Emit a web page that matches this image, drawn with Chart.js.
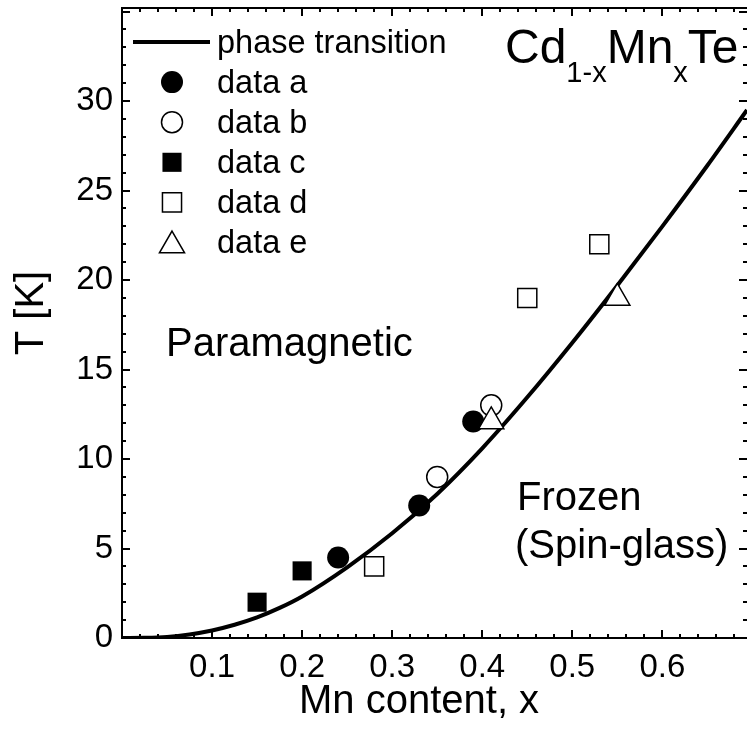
<!DOCTYPE html>
<html>
<head>
<meta charset="utf-8">
<title>Cd1-xMnxTe phase diagram</title>
<script src="https://cdn.jsdelivr.net/npm/chart.js@4.4.0/dist/chart.umd.min.js"></script>
<style>
    html, body { margin: 0; padding: 0; background: #fff; }
    #wrap { width: 747px; height: 747px; }
</style>
</head>
<body>
<div id="wrap"><canvas id="chart" width="747" height="747"></canvas></div>
<script>
// Phase transition line T(x)
const curveX = [0, 0.025, 0.05, 0.075, 0.1, 0.125, 0.15, 0.175, 0.2, 0.25, 0.3, 0.35, 0.4, 0.45, 0.5, 0.55, 0.6, 0.65, 0.694];
const curveT = [0, 0.01, 0.06, 0.2, 0.42, 0.74, 1.15, 1.68, 2.32, 3.95, 5.85, 8.05, 10.6, 13.45, 16.5, 19.7, 23.0, 26.4, 29.5];

// Measured freezing temperatures
const dataAX = [0.24, 0.33, 0.39];
const dataAT = [4.5, 7.4, 12.1];
const dataBX = [0.35, 0.41];
const dataBT = [9.0, 13.0];
const dataCX = [0.15, 0.20];
const dataCT = [2.0, 3.75];
const dataDX = [0.28, 0.45, 0.53];
const dataDT = [4.0, 19.0, 22.0];
const dataEX = [0.41, 0.55];
const dataET = [12.1, 19.0];

// Axis ticks
const xTickValues = [0.1, 0.2, 0.3, 0.4, 0.5, 0.6];
const yTickValues = [0, 5, 10, 15, 20, 25, 30];

const FONT = '"Liberation Sans", Arial, sans-serif';

function toPoints(xs, ys) {
    return xs.map((x, i) => ({ x: x, y: ys[i] }));
}

// Marker styles shared by the plot and the legend
const markerStyles = {
    a: { pointStyle: 'circle', radius: 11, fill: '#000', borderWidth: 0 },
    b: { pointStyle: 'circle', radius: 10.5, fill: '#fff', borderWidth: 1.5 },
    c: { pointStyle: 'rect', radius: 13.5, fill: '#000', borderWidth: 0 },
    d: { pointStyle: 'rect', radius: 13.5, fill: '#fff', borderWidth: 1.5 },
    e: { pointStyle: 'triangle', radius: 14.5, fill: '#fff', borderWidth: 1.5 }
};

function markerDataset(label, xs, ys, key, order) {
    const s = markerStyles[key];
    return {
        label: label,
        data: toPoints(xs, ys),
        showLine: false,
        pointStyle: s.pointStyle,
        pointRadius: s.radius,
        pointBackgroundColor: s.fill,
        pointBorderColor: '#000',
        pointBorderWidth: s.borderWidth,
        order: order
    };
}

// keep the plot area exactly where the layout puts it
function noScalePadding(scale) {
    scale.paddingTop = 0;
    scale.paddingBottom = 0;
    scale.paddingLeft = 0;
    scale.paddingRight = 0;
}

// Frame, inward ticks, axis titles, legend and text labels
const decorPlugin = {
    id: 'decor',
    afterDraw(chart) {
        const ctx = chart.ctx;
        const area = chart.chartArea;
        const xs = chart.scales.x;
        const ys = chart.scales.y;

        ctx.save();
        ctx.fillStyle = '#000';
        // frame (right edge sits outside the canvas)
        ctx.fillRect(area.left - 1, area.top - 1, 2, area.bottom - area.top + 2);
        ctx.fillRect(area.left - 1, area.top - 1, area.right - area.left + 2, 2);
        ctx.fillRect(area.left - 1, area.bottom - 1, area.right - area.left + 2, 2);

        // x ticks, bottom and top
        for (let i = 1; i * 0.02 <= xs.max + 1e-9; i++) {
            const v = i * 0.02;
            const px = Math.round(xs.getPixelForValue(v));
            const major = i % 5 === 0;
            const len = major ? 8 : 4;
            ctx.fillRect(px - 1, area.bottom - len, 2, len);
            ctx.fillRect(px - 1, area.top, 2, len);
        }
        // y ticks, left and right
        for (let v = 1; v <= ys.max; v++) {
            const py = Math.round(ys.getPixelForValue(v));
            const major = v % 5 === 0;
            const len = major ? 8 : 4;
            ctx.fillRect(area.left, py - 1, len, 2);
            ctx.fillRect(area.right - len, py - 1, len, 2);
        }

        ctx.textAlign = 'left';
        ctx.textBaseline = 'alphabetic';

        // axis titles
        ctx.font = '40px ' + FONT;
        ctx.fillText('Mn content, x', 299, 713);
        ctx.save();
        ctx.translate(43, 313);
        ctx.rotate(-Math.PI / 2);
        ctx.textAlign = 'center';
        ctx.fillText('T [K]', 0, 0);
        ctx.restore();

        // legend
        ctx.font = '32.5px ' + FONT;
        const lx = 172;
        const tx = 217;
        const base0 = 52.5;
        const step = 40.1;
        ctx.fillRect(133, 40, 77, 4);
        ctx.fillText('phase transition', tx, base0);
        const entries = [['a', 'data a'], ['b', 'data b'], ['c', 'data c'], ['d', 'data d'], ['e', 'data e']];
        entries.forEach((en, i) => {
            const s = markerStyles[en[0]];
            const base = base0 + step * (i + 1);
            let cy = base - 10.5;
            if (s.pointStyle === 'triangle') cy += 3;
            ctx.fillStyle = s.fill;
            ctx.strokeStyle = '#000';
            ctx.lineWidth = s.borderWidth;
            Chart.helpers.drawPoint(ctx, {
                pointStyle: s.pointStyle,
                radius: s.radius,
                rotation: 0,
                borderWidth: s.borderWidth
            }, lx, cy);
            ctx.fillStyle = '#000';
            ctx.fillText(en[1], tx, base);
        });

        // compound formula
        let fx = 505;
        const parts = [['Cd', 48, 63], ['1-x', 29, 82], ['Mn', 48, 63], ['x', 29, 82], ['Te', 48, 63]];
        parts.forEach(p => {
            ctx.font = p[1] + 'px ' + FONT;
            ctx.fillText(p[0], fx, p[2]);
            fx += ctx.measureText(p[0]).width;
        });

        // region labels
        ctx.font = '40px ' + FONT;
        ctx.fillText('Paramagnetic', 166, 356);
        ctx.fillText('Frozen', 517, 510);
        ctx.fillText('(Spin-glass)', 515, 558);
        ctx.restore();
    }
};

const ctx = document.getElementById('chart').getContext('2d');
new Chart(ctx, {
    type: 'scatter',
    data: {
        datasets: [
            {
                label: 'phase transition',
                data: toPoints(curveX, curveT),
                showLine: true,
                borderColor: '#000',
                borderWidth: 4,
                pointRadius: 0,
                cubicInterpolationMode: 'monotone',
                fill: false,
                order: 6
            },
            markerDataset('data a', dataAX, dataAT, 'a', 5),
            markerDataset('data b', dataBX, dataBT, 'b', 4),
            markerDataset('data c', dataCX, dataCT, 'c', 3),
            markerDataset('data d', dataDX, dataDT, 'd', 2),
            markerDataset('data e', dataEX, dataET, 'e', 1)
        ]
    },
    options: {
        responsive: false,
        animation: false,
        devicePixelRatio: 1,
        layout: {
            autoPadding: false,
            padding: { top: 8, right: 0, bottom: 0, left: 0 }
        },
        plugins: {
            legend: { display: false },
            tooltip: { enabled: false }
        },
        scales: {
            x: {
                type: 'linear',
                min: 0,
                max: 0.694,
                afterBuildTicks(scale) {
                    scale.ticks = xTickValues.map(v => ({ value: v }));
                },
                afterFit(scale) {
                    scale.height = 109;
                    noScalePadding(scale);
                },
                grid: { display: false, drawTicks: false },
                border: { display: false },
                ticks: {
                    autoSkip: false,
                    maxRotation: 0,
                    padding: 10,
                    color: '#000',
                    font: { family: FONT, size: 33 },
                    callback: v => v.toFixed(1)
                }
            },
            y: {
                type: 'linear',
                min: 0,
                max: 35.2,
                afterBuildTicks(scale) {
                    scale.ticks = yTickValues.map(v => ({ value: v }));
                },
                afterFit(scale) {
                    scale.width = 122;
                    noScalePadding(scale);
                },
                grid: { display: false, drawTicks: false },
                border: { display: false },
                ticks: {
                    padding: 9,
                    color: '#000',
                    font: { family: FONT, size: 33 },
                    callback: v => String(v)
                }
            }
        }
    },
    plugins: [decorPlugin]
});
</script>
</body>
</html>
